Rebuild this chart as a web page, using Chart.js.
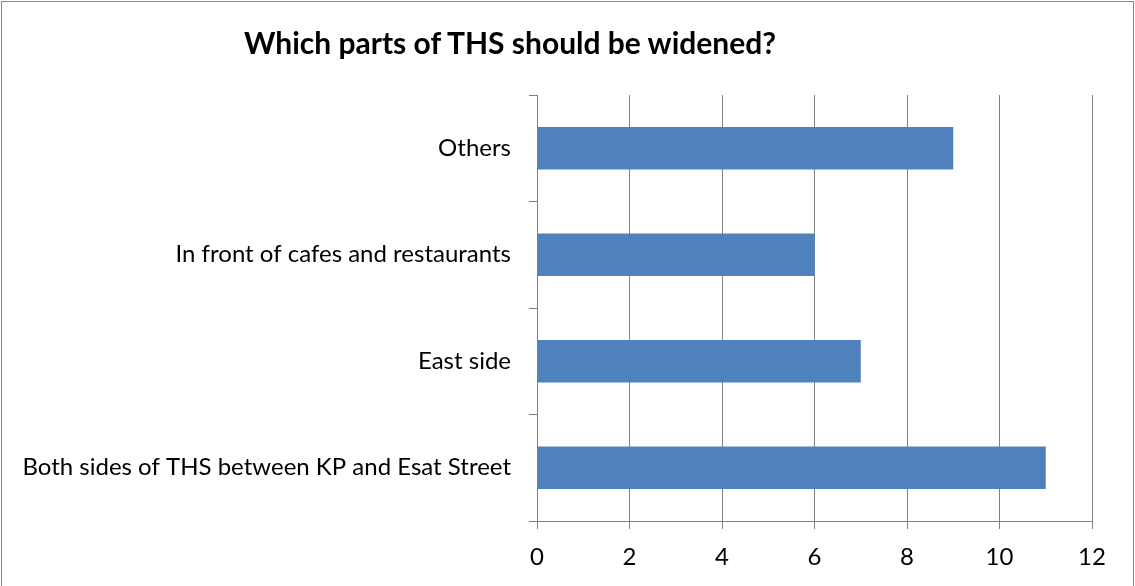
<!DOCTYPE html>
<html><head><meta charset="utf-8">
<script src="https://cdn.jsdelivr.net/npm/chart.js@4/dist/chart.umd.min.js"></script>
<style>
html,body{margin:0;padding:0;background:#fff;}
#wrap{position:absolute;left:0;top:0;width:1135px;height:586px;}
#frame{position:absolute;left:1px;top:1px;width:1133px;height:600px;border:1px solid #868686;box-sizing:border-box;pointer-events:none;}
#title{position:absolute;left:0;width:1020px;top:24px;text-align:center;font-family:Lato,"Liberation Sans",sans-serif;font-weight:bold;font-size:30px;color:#000;}
</style></head>
<body>
<div id="wrap">
<canvas id="c" width="1135" height="586"></canvas>
<div id="title">Which parts of THS should be widened?</div>
<div id="frame"></div>
</div>
<script>
const categories = ["Others", "In front of cafes and restaurants", "East side", "Both sides of THS between KP and Esat Street"];
const values = [9, 6, 7, 11];
const xTicks = [0, 2, 4, 6, 8, 10, 12];

const FONT = "Lato";
const gridColor = "#808080";

new Chart(document.getElementById("c"), {
  type: "bar",
  data: {
    labels: categories,
    datasets: [{
      data: values,
      backgroundColor: "#4F81BD",
      borderWidth: 0,
      barPercentage: 0.4,
      categoryPercentage: 1.0
    }]
  },
  options: {
    indexAxis: "y",
    responsive: false,
    animation: false,
    devicePixelRatio: 1,
    layout: { padding: { top: 95, right: 43, left: 0, bottom: 0 } },
    plugins: { legend: { display: false }, tooltip: { enabled: false }, title: { display: false } },
    scales: {
      x: {
        min: xTicks[0], max: xTicks[xTicks.length - 1],
        afterBuildTicks: (s) => { s.ticks = xTicks.map(v => ({ value: v })); },
        grid: { color: gridColor, lineWidth: 1, tickLength: 8, drawTicks: true },
        border: { color: gridColor, width: 1 },
        ticks: { color: "#000", font: { family: FONT, size: 24 }, padding: 14, maxRotation: 0 },
        afterFit: (s) => { s.height = 586 - 521; }
      },
      y: {
        grid: { color: gridColor, lineWidth: 1, tickLength: 8, drawOnChartArea: false, offset: true },
        border: { color: gridColor, width: 1 },
        ticks: { color: "#000", font: { family: FONT, size: 24 }, padding: 18 },
        afterFit: (s) => { s.width = 537; }
      }
    }
  }
});
</script>
</body></html>
